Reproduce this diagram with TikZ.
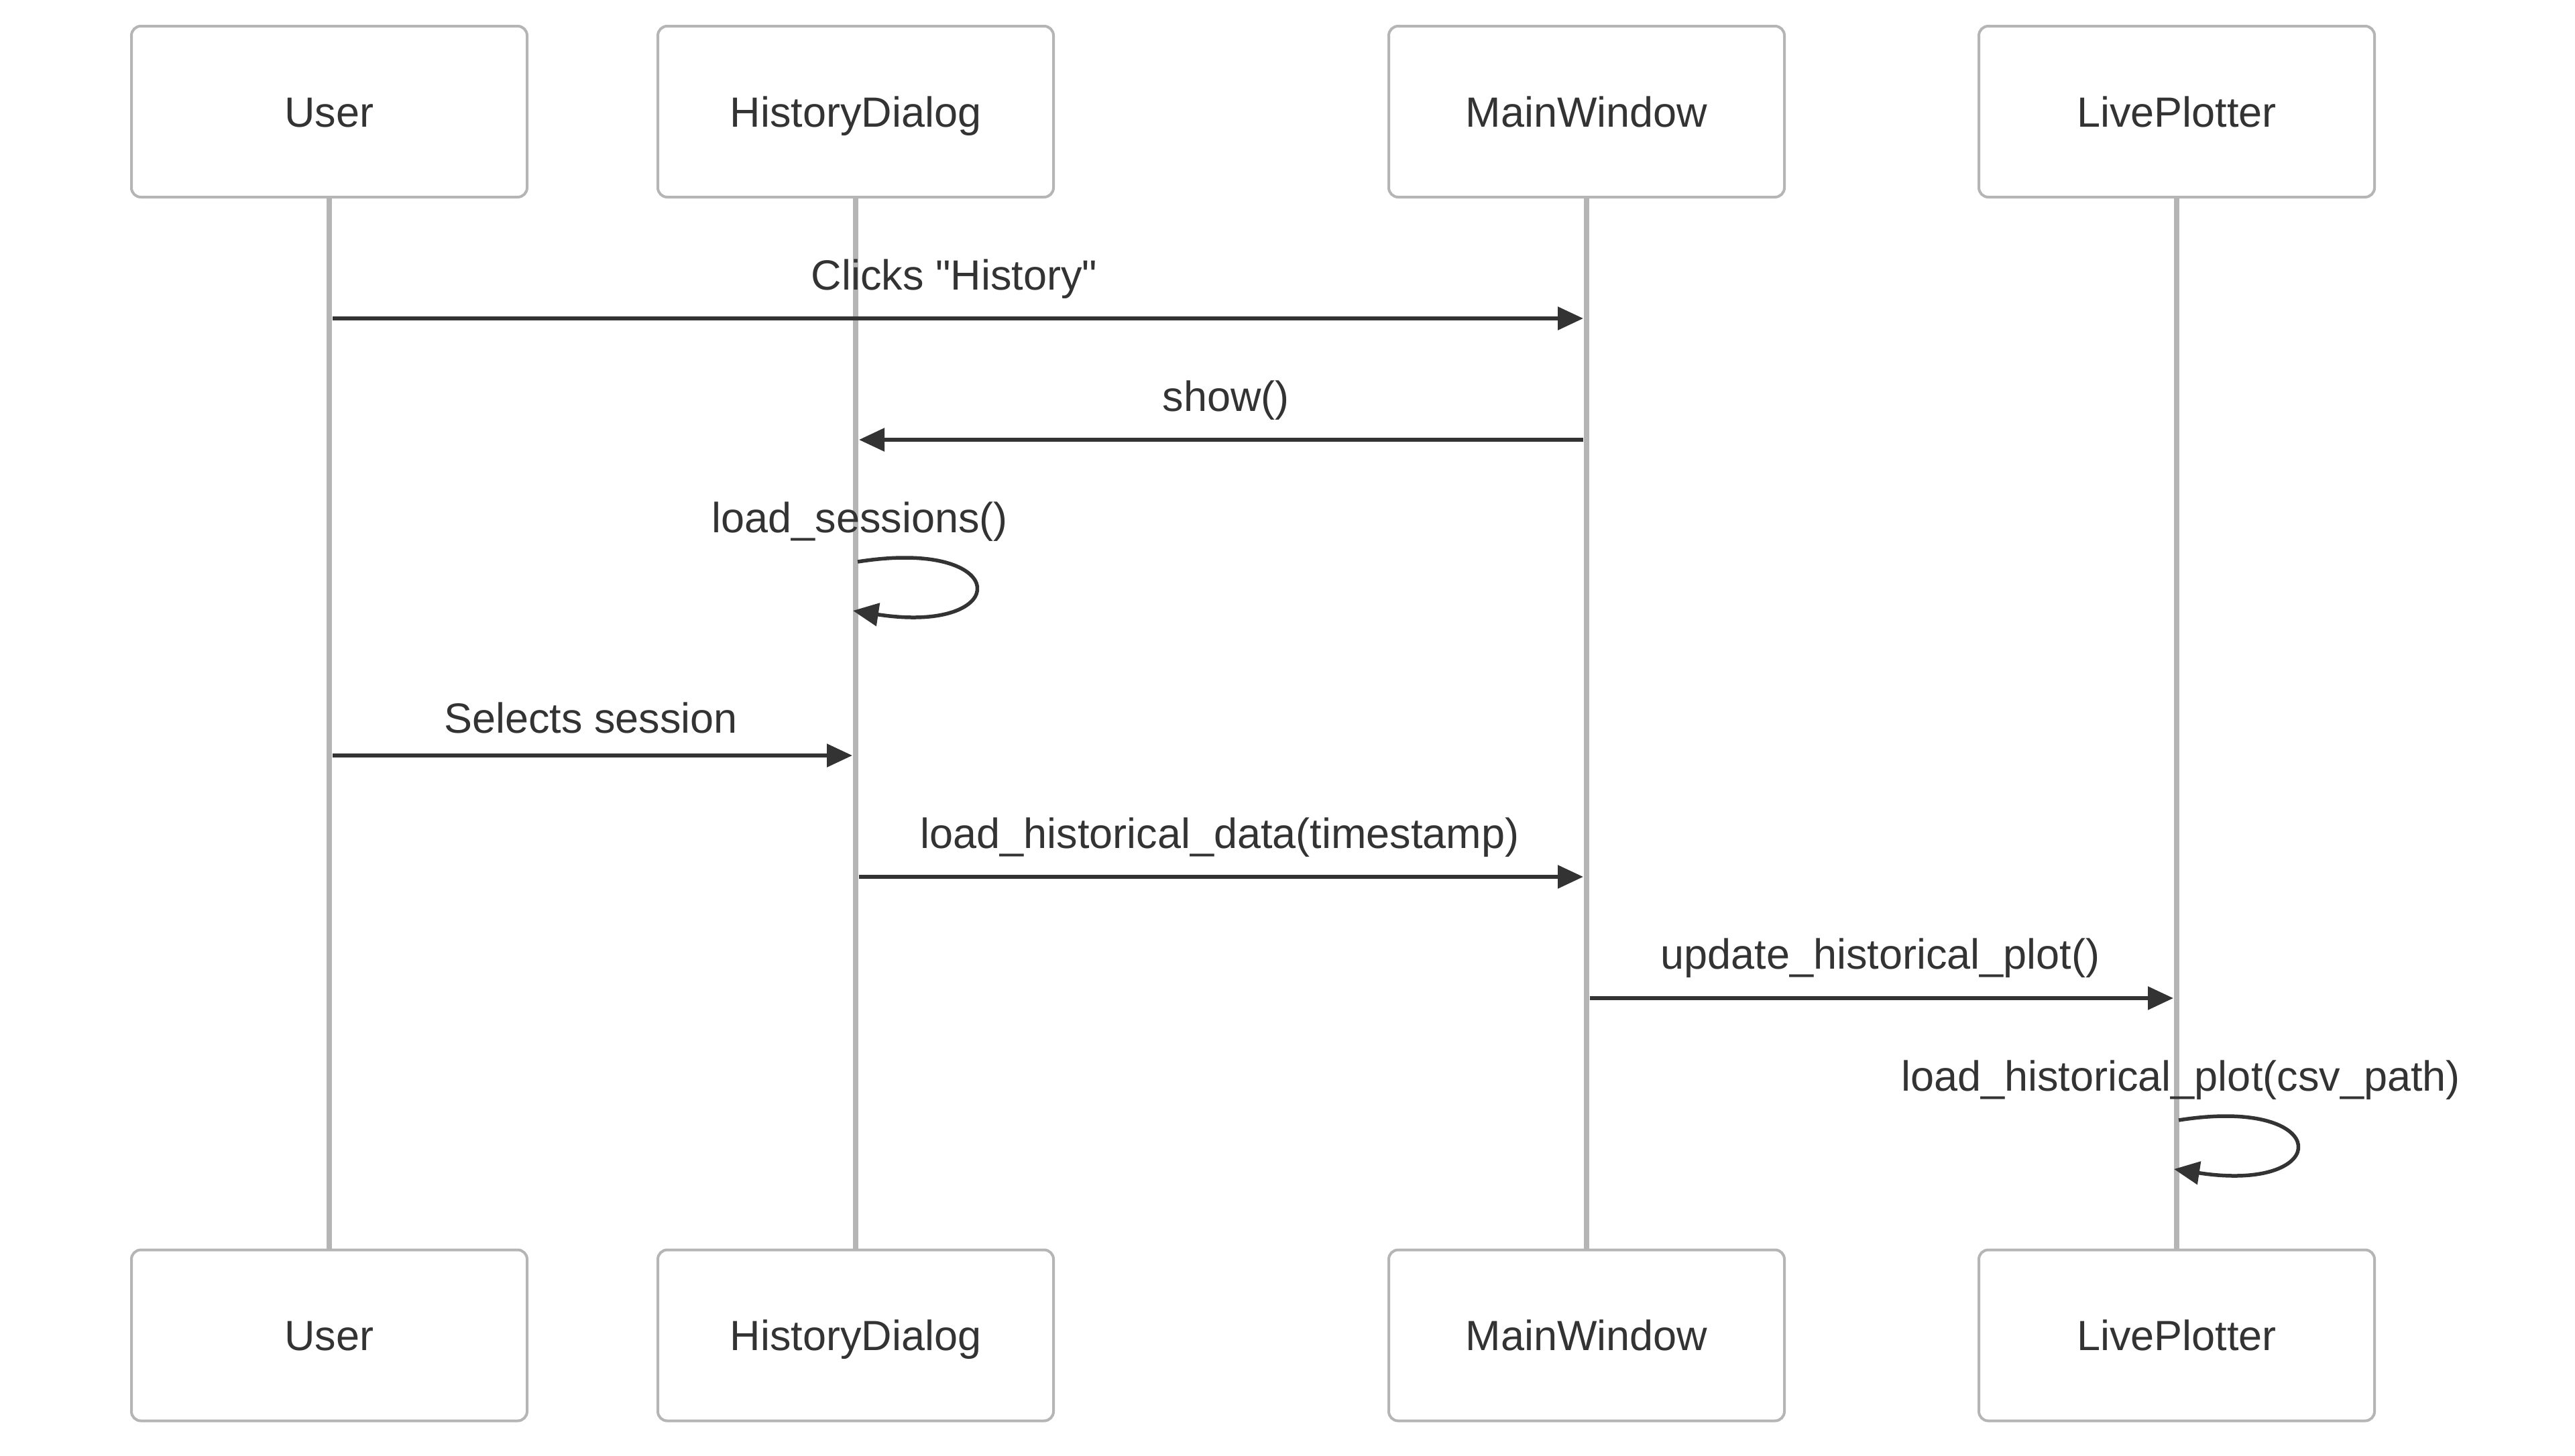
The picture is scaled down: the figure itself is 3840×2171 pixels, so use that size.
\documentclass[tikz,border=0pt]{standalone}
\usepackage{fontspec}
\setmainfont{Liberation Sans}[Ligatures=TeXOff]
\usetikzlibrary{arrows.meta}
\definecolor{txt}{HTML}{333333}
\definecolor{edge}{HTML}{B5B5B5}
\begin{document}
\begin{tikzpicture}[x=1pt,y=-1pt,
  actor/.style={draw=edge, line width=4pt, fill=white, rounded corners=14pt,
    minimum width=590pt, minimum height=255pt, inner sep=0pt, text=txt,
    font=\fontsize{63}{75}\selectfont, text height=45pt, text depth=0pt},
  life/.style={draw=edge, line width=8pt},
  msg/.style={draw=txt, line width=5.5pt, -{Triangle[length=38pt,width=34pt]}},
  lbl/.style={text=txt, font=\fontsize{63}{75}\selectfont, anchor=base, inner sep=0pt}]
\fill[white] (0,0) rectangle (3840,2171);
\useasboundingbox (0,0) rectangle (3840,2171);
% actors
\node[actor] (ut)  at (491,166.5)  {User};
\node[actor] (hdt) at (1276,166.5) {HistoryDialog};
\node[actor] (mwt) at (2366,166.5) {MainWindow};
\node[actor] (lpt) at (3246,166.5) {LivePlotter};
\node[actor] (ub)  at (491,1992)  {User};
\node[actor] (hdb) at (1276,1992) {HistoryDialog};
\node[actor] (mwb) at (2366,1992) {MainWindow};
\node[actor] (lpb) at (3246,1992) {LivePlotter};
% lifelines
\draw[life] (ut.south) -- (ub.north);
\draw[life] (hdt.south) -- (hdb.north);
\draw[life] (mwt.south) -- (mwb.north);
\draw[life] (lpt.south) -- (lpb.north);
% message anchor coordinates
\coordinate (m1s) at (496,475);  \coordinate (m1e) at (2361,475);
\coordinate (m2s) at (2361,656); \coordinate (m2e) at (1281,656);
\coordinate (m3s) at (1279,838); \coordinate (m3e) at (1272,911);
\coordinate (m4s) at (496,1127); \coordinate (m4e) at (1271,1127);
\coordinate (m5s) at (1281,1308); \coordinate (m5e) at (2361,1308);
\coordinate (m6s) at (2371,1489); \coordinate (m6e) at (3241,1489);
\coordinate (m7s) at (3249,1671); \coordinate (m7e) at (3242,1744);
% messages
\draw[msg] (m1s) -- (m1e);
\node[lbl] (t1) at (1423,432) {Clicks "History"};
\draw[msg] (m2s) -- (m2e);
\node[lbl] (t2) at (1828,613) {show()};
\draw[msg] (m3s) .. controls (1512,801) and (1512,948) .. (m3e);
\node[lbl] (t3) at (1282,794) {load\_sessions()};
\draw[msg] (m4s) -- (m4e);
\node[lbl] (t4) at (881,1093) {Selects session};
\draw[msg] (m5s) -- (m5e);
\node[lbl] (t5) at (1819,1265) {load\_historical\_data(timestamp)};
\draw[msg] (m6s) -- (m6e);
\node[lbl] (t6) at (2804,1445) {update\_historical\_plot()};
\draw[msg] (m7s) .. controls (3482,1634) and (3482,1781) .. (m7e);
\node[lbl] (t7) at (3252,1627) {load\_historical\_plot(csv\_path)};
\end{tikzpicture}
\end{document}
